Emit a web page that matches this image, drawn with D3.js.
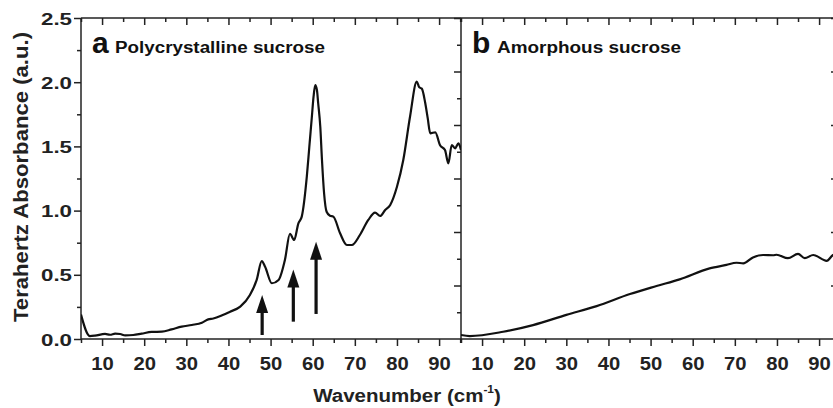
<!DOCTYPE html>
<html>
<head>
<meta charset="utf-8">
<script src="https://cdn.jsdelivr.net/npm/d3@7"></script>
<style>
  body { margin: 0; background: #fff; }
  svg { display: block; font-family: "Liberation Sans", Arial, sans-serif; font-weight: bold; }
  .axis path, .axis line { stroke: #222; stroke-width: 1.5; }
</style>
</head>
<body>
<div id="chart"></div>
<script>
// panel a: polycrystalline sucrose (wavenumber cm-1, absorbance a.u.)
const waveA = [5, 7.1, 8.3, 10.7, 11.9, 13.1, 14.3, 15.5, 17.4, 19.4, 21.8, 24.2, 26.5, 28.9, 31.3, 33.7, 35.2, 36.4, 38.5, 40.4, 42.8, 45.1, 46.7, 47.9, 48.7, 50.3, 51.9, 53.4, 54.6, 55.6, 56.6, 57.4, 58.6, 59.2, 59.8, 60.2, 60.6, 61, 61.3, 61.8, 62.2, 62.7, 63.3, 64.1, 64.9, 66.5, 68.1, 69.3, 71.2, 73.2, 74.8, 76, 77.2, 78.4, 80, 81.5, 83.1, 84.7, 85.3, 85.9, 86.7, 87.3, 87.9, 89.1, 90.2, 91.4, 92.2, 93, 93.8, 94.6, 95.2];
const absA  = [0.19, 0.023, 0.026, 0.04, 0.033, 0.042, 0.039, 0.028, 0.031, 0.042, 0.055, 0.057, 0.075, 0.096, 0.109, 0.127, 0.153, 0.16, 0.185, 0.213, 0.252, 0.343, 0.46, 0.607, 0.563, 0.434, 0.46, 0.615, 0.818, 0.771, 0.901, 0.953, 1.264, 1.498, 1.731, 1.887, 1.978, 1.94, 1.836, 1.653, 1.394, 1.135, 0.991, 0.96, 0.953, 0.823, 0.732, 0.732, 0.81, 0.927, 0.984, 0.958, 1.005, 1.044, 1.186, 1.394, 1.731, 2.004, 1.96, 1.95, 1.84, 1.72, 1.602, 1.61, 1.511, 1.472, 1.368, 1.511, 1.485, 1.524, 1.472];

// panel b: amorphous sucrose
const waveB = [5, 7.1, 15, 22.1, 30, 37.2, 45.1, 51.4, 56.9, 64, 68, 70.4, 72, 74.3, 76.7, 79.1, 79.9, 82.6, 85, 86.6, 88.6, 91.8, 93.3, 94.5];
const absB  = [0.015, 0.011, 0.027, 0.052, 0.090, 0.123, 0.168, 0.198, 0.223, 0.264, 0.277, 0.285, 0.283, 0.305, 0.314, 0.313, 0.315, 0.302, 0.318, 0.302, 0.314, 0.292, 0.314, 0.32];

// arrows under the three low-frequency modes in panel a
const arrowX    = [48, 55.4, 60.8];
const arrowFrom = [0.031, 0.135, 0.195];
const arrowTo   = [0.343, 0.542, 0.758];

const yTicksA = [0, 0.5, 1.0, 1.5, 2.0, 2.5];

let width = 833, height = 408;
let plotTop = 18, plotBottom = 339;
let aLeft = 81, split = 461, bRight = 838;

const svg = d3.select("#chart").append("svg")
    .attr("width", width)
    .attr("height", height);

const xA = d3.scaleLinear().domain([5, 95.2]).range([aLeft, split]);
const xB = d3.scaleLinear().domain([5, 5 + (bRight - split) / ((split - aLeft) / 90.2)]).range([split, bRight]);
const yA = d3.scaleLinear().domain([0, 2.5]).range([plotBottom, plotTop]);
const yB = d3.scaleLinear().domain([0, 1.2]).range([plotBottom, plotTop]);

// clip each panel
const defs = svg.append("defs");
defs.append("clipPath").attr("id", "clipA").append("rect")
    .attr("x", aLeft).attr("y", plotTop).attr("width", split - aLeft).attr("height", plotBottom - plotTop);
defs.append("clipPath").attr("id", "clipB").append("rect")
    .attr("x", split).attr("y", plotTop).attr("width", bRight - split).attr("height", plotBottom - plotTop);

const ticks5 = d3.range(5, 96, 5);

// helper: axis with major/minor ticks
function drawX(scale, y, dir, labels) {
  const minor = ticks5.filter(d => d % 10 !== 0 && d <= scale.domain()[1]);
  const major = ticks5.filter(d => d % 10 === 0 && d <= scale.domain()[1]);
  const mk = dir === "down" ? d3.axisBottom : d3.axisTop;
  // top axis ticks point inward (down)
  const g1 = svg.append("g").attr("class", "axis").attr("transform", "translate(0," + y + ")")
      .call(mk(scale).tickValues(minor).tickSize(dir === "down" ? 4 : -4).tickFormat(""));
  const g2 = svg.append("g").attr("class", "axis").attr("transform", "translate(0," + y + ")")
      .call(mk(scale).tickValues(major).tickSize(dir === "down" ? 7 : -7).tickFormat(labels ? d3.format("d") : ""));
  g1.select(".domain").remove();
  g2.select(".domain").remove();
  g2.selectAll("text")
      .attr("y", 31).attr("dy", 0)
      .attr("fill", "#222")
      .style("font-size", "19px")
      .attr("textLength", 22.5).attr("lengthAdjust", "spacingAndGlyphs");
}

drawX(xA, plotBottom, "down", true);
drawX(xB, plotBottom, "down", true);
drawX(xA, plotTop, "up", false);
drawX(xB, plotTop, "up", false);

// panel a left axis
svg.append("g").attr("class", "axis").attr("transform", "translate(" + aLeft + ",0)")
    .call(d3.axisLeft(yA).tickValues(d3.range(0.25, 2.5, 0.5)).tickSize(4).tickFormat(""))
    .select(".domain").remove();
const yAx = svg.append("g").attr("class", "axis").attr("transform", "translate(" + aLeft + ",0)")
    .call(d3.axisLeft(yA).tickValues(yTicksA).tickSize(7).tickFormat(d3.format(".1f")));
yAx.select(".domain").remove();
yAx.selectAll("text")
    .attr("x", -9).attr("dy", "0.36em")
    .attr("fill", "#222")
    .style("font-size", "17px")
    .attr("textLength", 31).attr("lengthAdjust", "spacingAndGlyphs");

// panel b left axis (shared divider), ticks pointing into panel a
svg.append("g").attr("class", "axis").attr("transform", "translate(" + split + ",0)")
    .call(d3.axisLeft(yB).tickValues(d3.range(0.1, 1.2, 0.2)).tickSize(4).tickFormat(""))
    .select(".domain").remove();
svg.append("g").attr("class", "axis").attr("transform", "translate(" + split + ",0)")
    .call(d3.axisLeft(yB).tickValues(d3.range(0.2, 1.21, 0.2)).tickSize(7).tickFormat(""))
    .select(".domain").remove();
// panel b right axis, inward ticks
svg.append("g").attr("class", "axis").attr("transform", "translate(" + bRight + ",0)")
    .call(d3.axisRight(yB).tickValues(d3.range(0.2, 1.21, 0.2)).tickSize(-7).tickFormat(""))
    .select(".domain").remove();

// frame lines
const frame = svg.append("g").attr("stroke", "#222").attr("stroke-width", 1.5);
frame.append("line").attr("x1", aLeft).attr("x2", width).attr("y1", plotTop).attr("y2", plotTop);
frame.append("line").attr("x1", aLeft).attr("x2", width).attr("y1", plotBottom).attr("y2", plotBottom);
frame.append("line").attr("x1", aLeft).attr("x2", aLeft).attr("y1", plotTop).attr("y2", plotBottom);
frame.append("line").attr("x1", split).attr("x2", split).attr("y1", plotTop).attr("y2", plotBottom);

// curves
const lineA = d3.line()
    .x((d, i) => xA(waveA[i]))
    .y(d => yA(d))
    .curve(d3.curveMonotoneX);
const lineB = d3.line()
    .x((d, i) => xB(waveB[i]))
    .y(d => yB(d))
    .curve(d3.curveMonotoneX);

svg.append("path")
    .datum(absA)
    .attr("clip-path", "url(#clipA)")
    .attr("fill", "none")
    .attr("stroke", "#111")
    .attr("stroke-width", 2.2)
    .attr("stroke-linejoin", "round")
    .attr("d", lineA);

svg.append("path")
    .datum(absB)
    .attr("clip-path", "url(#clipB)")
    .attr("fill", "none")
    .attr("stroke", "#111")
    .attr("stroke-width", 2.2)
    .attr("stroke-linejoin", "round")
    .attr("d", lineB);

// arrows
arrowX.forEach((w, i) => {
  let x = xA(w), y0 = yA(arrowFrom[i]), y1 = yA(arrowTo[i]);
  svg.append("line")
      .attr("x1", x).attr("x2", x).attr("y1", y0).attr("y2", y1 + 14)
      .attr("stroke", "#111").attr("stroke-width", 3.2);
  svg.append("path")
      .attr("d", "M" + x + "," + y1 + "L" + (x - 6) + "," + (y1 + 18) + "L" + (x + 6) + "," + (y1 + 18) + "Z")
      .attr("fill", "#111");
});

// panel labels
svg.append("text").attr("x", 92).attr("y", 53).style("font-size", "30px").attr("fill", "#111").text("a");
svg.append("text").attr("x", 115).attr("y", 53).style("font-size", "16px").attr("fill", "#111")
    .attr("textLength", 210).attr("lengthAdjust", "spacingAndGlyphs")
    .text("Polycrystalline sucrose");
svg.append("text").attr("x", 472).attr("y", 53).style("font-size", "30px").attr("fill", "#111").text("b");
svg.append("text").attr("x", 497).attr("y", 53).style("font-size", "16px").attr("fill", "#111")
    .attr("textLength", 184).attr("lengthAdjust", "spacingAndGlyphs")
    .text("Amorphous sucrose");

// axis titles
svg.append("text")
    .attr("transform", "translate(28,177)rotate(-90)")
    .attr("text-anchor", "middle")
    .style("font-size", "21px")
    .attr("fill", "#222")
    .attr("textLength", 290).attr("lengthAdjust", "spacingAndGlyphs")
    .text("Terahertz Absorbance (a.u.)");

const xt = svg.append("g").attr("transform", "translate(407,402)scale(1.08,1)")
  .append("text")
    .attr("text-anchor", "middle")
    .style("font-size", "19px")
    .attr("fill", "#222");
xt.append("tspan").text("Wavenumber (cm");
xt.append("tspan").attr("dy", -9).style("font-size", "11px").text("-1");
xt.append("tspan").attr("dy", 9).text(")");
</script>
</body>
</html>
